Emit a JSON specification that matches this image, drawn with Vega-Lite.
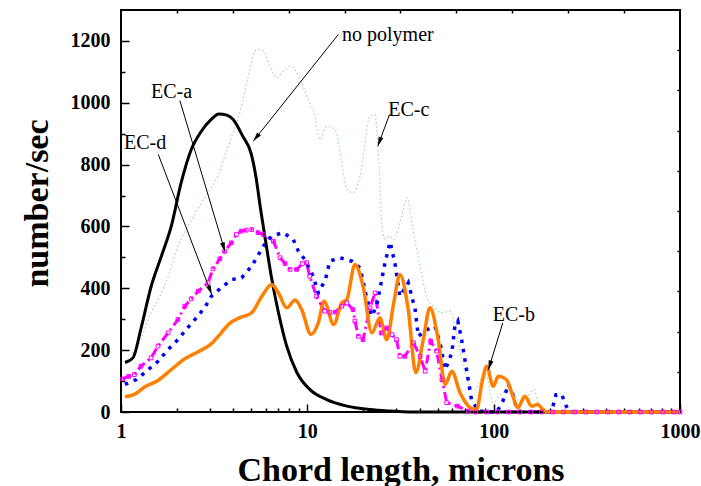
{
  "$schema": "https://vega.github.io/schema/vega-lite/v6.json",
  "width": 559,
  "height": 402,
  "autosize": "none",
  "padding": {"left": 121, "top": 10, "right": 21, "bottom": 74},
  "background": "white",
  "config": {
    "view": {"stroke": "#000", "strokeWidth": 2},
    "font": "Liberation Serif",
    "axis": {
      "domain": false,
      "grid": false,
      "labelFlush": false,
      "tickColor": "#000",
      "tickWidth": 1.5,
      "labelFont": "Liberation Serif",
      "labelFontWeight": "bold",
      "labelFontSize": 20,
      "labelColor": "#000",
      "titleFont": "Liberation Serif",
      "titleFontWeight": "bold",
      "titleFontSize": 34,
      "titleColor": "#000"
    }
  },
  "datasets": {
    "noPolymer": [
      {"len": 1.05, "n": 160}, {"len": 1.16, "n": 175}, {"len": 1.28, "n": 270}, {"len": 1.45, "n": 405},
      {"len": 1.65, "n": 505}, {"len": 1.86, "n": 600}, {"len": 2.1, "n": 740}, {"len": 2.38, "n": 848},
      {"len": 2.7, "n": 908}, {"len": 3.05, "n": 946}, {"len": 3.35, "n": 964}, {"len": 3.7, "n": 960},
      {"len": 4.0, "n": 946}, {"len": 4.5, "n": 892}, {"len": 5.0, "n": 835}, {"len": 5.3, "n": 760},
      {"len": 5.6, "n": 660}, {"len": 6.0, "n": 545}, {"len": 6.4, "n": 440}, {"len": 7.0, "n": 321},
      {"len": 7.75, "n": 213}, {"len": 8.8, "n": 127}, {"len": 10.3, "n": 73}, {"len": 12.7, "n": 40},
      {"len": 16.3, "n": 19}, {"len": 21.7, "n": 8}, {"len": 28, "n": 3}, {"len": 35, "n": 0},
      {"len": 1000, "n": 0}
    ],
    "ecA": [
      {"len": 1.02, "n": 107}, {"len": 1.1, "n": 115}, {"len": 1.18, "n": 121}, {"len": 1.28, "n": 148},
      {"len": 1.45, "n": 175}, {"len": 1.58, "n": 213}, {"len": 1.79, "n": 256}, {"len": 2.02, "n": 299},
      {"len": 2.2, "n": 342}, {"len": 2.38, "n": 366}, {"len": 2.6, "n": 391}, {"len": 2.93, "n": 418},
      {"len": 3.12, "n": 463}, {"len": 3.39, "n": 495}, {"len": 3.6, "n": 520}, {"len": 3.91, "n": 547},
      {"len": 4.16, "n": 574}, {"len": 4.42, "n": 585}, {"len": 4.7, "n": 588}, {"len": 5.03, "n": 590},
      {"len": 5.45, "n": 580}, {"len": 5.81, "n": 574}, {"len": 6.58, "n": 552}, {"len": 7.14, "n": 499},
      {"len": 7.6, "n": 480}, {"len": 8.07, "n": 461}, {"len": 8.77, "n": 461}, {"len": 9.4, "n": 480},
      {"len": 9.9, "n": 483}, {"len": 10.3, "n": 439}, {"len": 11.2, "n": 374}, {"len": 12.4, "n": 326},
      {"len": 13.2, "n": 322}, {"len": 14.1, "n": 323}, {"len": 15.3, "n": 342}, {"len": 16.3, "n": 353},
      {"len": 17.6, "n": 331}, {"len": 18.0, "n": 294}, {"len": 18.8, "n": 245}, {"len": 19.9, "n": 234},
      {"len": 21.7, "n": 337}, {"len": 23.1, "n": 385}, {"len": 24.9, "n": 256}, {"len": 26.7, "n": 272},
      {"len": 28.5, "n": 250}, {"len": 30.1, "n": 234}, {"len": 31.4, "n": 180}, {"len": 33.4, "n": 180},
      {"len": 37.1, "n": 224}, {"len": 40.3, "n": 180}, {"len": 42.9, "n": 132}, {"len": 45.9, "n": 229},
      {"len": 49.4, "n": 197}, {"len": 52.8, "n": 105}, {"len": 56, "n": 30}, {"len": 64, "n": 19},
      {"len": 73, "n": 3}, {"len": 80, "n": 0}, {"len": 92, "n": 0}, {"len": 105, "n": 0},
      {"len": 120, "n": 0}, {"len": 138, "n": 0}, {"len": 158, "n": 0}, {"len": 181, "n": 0},
      {"len": 207, "n": 0}, {"len": 237, "n": 0}, {"len": 272, "n": 0}, {"len": 312, "n": 0},
      {"len": 357, "n": 0}, {"len": 409, "n": 0}, {"len": 469, "n": 0}, {"len": 537, "n": 0},
      {"len": 616, "n": 0}, {"len": 705, "n": 0}, {"len": 808, "n": 0}, {"len": 926, "n": 0},
      {"len": 1000, "n": 0}
    ],
    "ecB": [
      {"len": 1.05, "n": 49}, {"len": 1.18, "n": 57}, {"len": 1.34, "n": 81}, {"len": 1.58, "n": 102},
      {"len": 1.86, "n": 137}, {"len": 2.2, "n": 172}, {"len": 2.6, "n": 195}, {"len": 3.1, "n": 224},
      {"len": 3.45, "n": 256}, {"len": 3.8, "n": 285}, {"len": 4.35, "n": 305}, {"len": 5.03, "n": 321},
      {"len": 5.7, "n": 374}, {"len": 6.44, "n": 412}, {"len": 7.0, "n": 385}, {"len": 7.75, "n": 337},
      {"len": 8.6, "n": 362}, {"len": 9.33, "n": 331}, {"len": 10.45, "n": 251}, {"len": 11.45, "n": 288},
      {"len": 12.3, "n": 358}, {"len": 13.85, "n": 283}, {"len": 15.3, "n": 353}, {"len": 16.3, "n": 364},
      {"len": 18.0, "n": 477}, {"len": 19.9, "n": 407}, {"len": 22.2, "n": 256}, {"len": 24.5, "n": 305},
      {"len": 26.7, "n": 234}, {"len": 29.0, "n": 348}, {"len": 31.4, "n": 445}, {"len": 34.8, "n": 331},
      {"len": 38.2, "n": 127}, {"len": 41.9, "n": 234}, {"len": 45.5, "n": 337}, {"len": 50.4, "n": 234},
      {"len": 54.9, "n": 89}, {"len": 59.6, "n": 132}, {"len": 66, "n": 62}, {"len": 75, "n": 14},
      {"len": 81, "n": 8}, {"len": 86.5, "n": 94}, {"len": 91.7, "n": 148}, {"len": 99.5, "n": 83},
      {"len": 106, "n": 116}, {"len": 117, "n": 105}, {"len": 125, "n": 62}, {"len": 135, "n": 14},
      {"len": 147, "n": 51}, {"len": 160, "n": 19}, {"len": 172, "n": 24}, {"len": 184, "n": 8},
      {"len": 195, "n": 0}, {"len": 1000, "n": 0}
    ],
    "ecC": [
      {"len": 1.15, "n": 190}, {"len": 1.23, "n": 213}, {"len": 1.45, "n": 321}, {"len": 1.65, "n": 385},
      {"len": 1.79, "n": 439}, {"len": 2.02, "n": 536}, {"len": 2.29, "n": 601}, {"len": 2.64, "n": 666},
      {"len": 2.93, "n": 709}, {"len": 3.31, "n": 763}, {"len": 3.6, "n": 827}, {"len": 3.99, "n": 903},
      {"len": 4.34, "n": 968}, {"len": 4.52, "n": 1011}, {"len": 4.82, "n": 1086}, {"len": 5.34, "n": 1172},
      {"len": 5.81, "n": 1167}, {"len": 6.3, "n": 1118}, {"len": 6.85, "n": 1081}, {"len": 7.42, "n": 1102},
      {"len": 8.25, "n": 1118}, {"len": 9.13, "n": 1075}, {"len": 10.3, "n": 1000}, {"len": 10.75, "n": 978},
      {"len": 11.7, "n": 881}, {"len": 12.7, "n": 924}, {"len": 14.1, "n": 913}, {"len": 15.3, "n": 806},
      {"len": 16.3, "n": 720}, {"len": 17.6, "n": 709}, {"len": 19.2, "n": 763}, {"len": 21.7, "n": 957},
      {"len": 23.1, "n": 962}, {"len": 23.9, "n": 860}, {"len": 24.5, "n": 752}, {"len": 24.9, "n": 633},
      {"len": 26, "n": 560}, {"len": 27.5, "n": 569}, {"len": 29, "n": 558}, {"len": 32.1, "n": 633},
      {"len": 34.2, "n": 693}, {"len": 37.1, "n": 580}, {"len": 40.3, "n": 472}, {"len": 43.7, "n": 374},
      {"len": 47.4, "n": 342}, {"len": 52.8, "n": 321}, {"len": 58.3, "n": 326}, {"len": 63.1, "n": 256},
      {"len": 67.3, "n": 170}, {"len": 73.2, "n": 94}, {"len": 79.8, "n": 73}, {"len": 84.9, "n": 105},
      {"len": 90, "n": 130}, {"len": 99.5, "n": 30}, {"len": 110, "n": 60}, {"len": 125, "n": 70},
      {"len": 140, "n": 30}, {"len": 153, "n": 51}, {"len": 164, "n": 73}, {"len": 175, "n": 20},
      {"len": 190, "n": 0}, {"len": 1000, "n": 0}
    ],
    "ecD": [
      {"len": 1.05, "n": 89}, {"len": 1.21, "n": 105}, {"len": 1.37, "n": 132}, {"len": 1.58, "n": 164},
      {"len": 1.79, "n": 202}, {"len": 2.02, "n": 234}, {"len": 2.24, "n": 267}, {"len": 2.49, "n": 299},
      {"len": 2.81, "n": 337}, {"len": 3.05, "n": 374}, {"len": 3.45, "n": 402}, {"len": 3.92, "n": 428},
      {"len": 4.44, "n": 434}, {"len": 5.03, "n": 472}, {"len": 5.81, "n": 536}, {"len": 6.44, "n": 569},
      {"len": 7.42, "n": 580}, {"len": 8.4, "n": 558}, {"len": 8.95, "n": 520}, {"len": 9.7, "n": 493},
      {"len": 10.75, "n": 439}, {"len": 11.45, "n": 385}, {"len": 12.5, "n": 428}, {"len": 13.2, "n": 488},
      {"len": 14.95, "n": 499}, {"len": 17.3, "n": 488}, {"len": 19.2, "n": 466}, {"len": 20.9, "n": 364},
      {"len": 22.2, "n": 310}, {"len": 23.5, "n": 342}, {"len": 24.9, "n": 418}, {"len": 26.1, "n": 482},
      {"len": 27.8, "n": 550}, {"len": 29.5, "n": 482}, {"len": 31.4, "n": 374}, {"len": 34.8, "n": 418},
      {"len": 37.9, "n": 331}, {"len": 39.4, "n": 245}, {"len": 44.1, "n": 267}, {"len": 48.4, "n": 277},
      {"len": 51.5, "n": 224}, {"len": 55, "n": 137}, {"len": 59.6, "n": 191}, {"len": 61.9, "n": 277},
      {"len": 64.2, "n": 294}, {"len": 67.3, "n": 234}, {"len": 71.5, "n": 137}, {"len": 76, "n": 40},
      {"len": 82.6, "n": 3}, {"len": 104, "n": 0}, {"len": 112, "n": 35}, {"len": 120, "n": 90},
      {"len": 127, "n": 55}, {"len": 133, "n": 10}, {"len": 140, "n": 0}, {"len": 200, "n": 0},
      {"len": 208, "n": 19}, {"len": 216, "n": 56}, {"len": 232, "n": 56}, {"len": 245, "n": 19},
      {"len": 255, "n": 0}, {"len": 1000, "n": 0}
    ],
    "labels": [
      {"text": "no polymer", "len": 15.36, "n": 1199},
      {"text": "EC-a", "len": 1.449, "n": 1016},
      {"text": "EC-d", "len": 1.038, "n": 849},
      {"text": "EC-c", "len": 27.2, "n": 957},
      {"text": "EC-b", "len": 98.9, "n": 294}
    ],
    "arrows": [
      {"name": "no polymer", "len": 14.67, "n": 1221, "len2": 5.13, "n2": 876},
      {"name": "EC-a", "len": 2.07, "n": 1007, "len2": 3.615, "n2": 519},
      {"name": "EC-d", "len": 1.585, "n": 833, "len2": 3.067, "n2": 380},
      {"name": "EC-c", "len": 27.6, "n": 962, "len2": 23.9, "n2": 860},
      {"name": "EC-b", "len": 111.9, "n": 288, "len2": 93.7, "n2": 137}
    ]
  },
  "layer": [
    {
      "data": {"name": "ecC"},
      "mark": {"type": "line", "color": "#a6d6a6", "strokeWidth": 1.2, "strokeDash": [1.5, 2.5], "interpolate": "monotone"},
      "encoding": {
        "x": {"field": "len", "type": "quantitative", "scale": {"type": "log", "domain": [1, 1000]},
              "axis": {"orient": "bottom", "values": [1, 10, 100, 1000], "format": "d", "tickSize": -8,
                       "labelPadding": 17, "title": "Chord length, microns", "titlePadding": 12}},
        "y": {"field": "n", "type": "quantitative", "scale": {"domain": [0, 1300], "nice": false},
              "axis": {"orient": "left", "values": [0, 200, 400, 600, 800, 1000, 1200], "format": "d", "tickSize": -8,
                       "labelPadding": 19, "title": "number/sec", "titlePadding": 16, "titleY": 193}}
      }
    },
    {
      "data": {"name": "ecA"},
      "mark": {"type": "line", "color": "#ff00ff", "strokeWidth": 3, "strokeDash": [9, 4, 2, 4]},
      "encoding": {
        "x": {"field": "len", "type": "quantitative", "scale": {"type": "log", "domain": [1, 1000]},
              "axis": {"orient": "bottom", "values": [2, 3, 4, 5, 6, 7, 8, 9, 20, 30, 40, 50, 60, 70, 80, 90, 200, 300, 400, 500, 600, 700, 800, 900],
                       "labels": false, "tickSize": -4, "title": null}},
        "y": {"field": "n", "type": "quantitative", "scale": {"domain": [0, 1300], "nice": false},
              "axis": {"orient": "left", "values": [100, 300, 500, 700, 900, 1100], "labels": false, "tickSize": -4, "title": null}}
      }
    },
    {
      "data": {"name": "ecD"},
      "mark": {"type": "line", "color": "#0000ff", "strokeWidth": 3.5, "strokeDash": [3.5, 6]},
      "encoding": {
        "x": {"field": "len", "type": "quantitative", "scale": {"type": "log", "domain": [1, 1000]},
              "axis": {"orient": "top", "values": [1.995, 3.981, 7.943, 15.85, 31.62, 63.1, 125.9, 251.2, 501.2],
                       "labels": false, "tickSize": -3, "title": null}},
        "y": {"field": "n", "type": "quantitative", "scale": {"domain": [0, 1300], "nice": false},
              "axis": {"orient": "right", "values": [130, 260, 390, 520, 650, 780, 910, 1040, 1170],
                       "labels": false, "tickSize": -3, "title": null}}
      }
    },
    {
      "data": {"name": "noPolymer"},
      "mark": {"type": "line", "color": "#000", "strokeWidth": 3, "interpolate": "monotone"},
      "encoding": {
        "x": {"field": "len", "type": "quantitative", "scale": {"type": "log", "domain": [1, 1000]}, "axis": null},
        "y": {"field": "n", "type": "quantitative", "scale": {"domain": [0, 1300], "nice": false}, "axis": null}
      }
    },
    {
      "data": {"name": "ecB"},
      "mark": {"type": "line", "color": "#ff8000", "strokeWidth": 3.5, "interpolate": "monotone"},
      "encoding": {
        "x": {"field": "len", "type": "quantitative", "scale": {"type": "log", "domain": [1, 1000]}, "axis": null},
        "y": {"field": "n", "type": "quantitative", "scale": {"domain": [0, 1300], "nice": false}, "axis": null}
      }
    },
    {
      "data": {"name": "ecA"},
      "mark": {"type": "point", "shape": "square", "filled": false, "color": "#ff00ff", "size": 14, "strokeWidth": 1, "opacity": 1},
      "encoding": {
        "x": {"field": "len", "type": "quantitative", "scale": {"type": "log", "domain": [1, 1000]}, "axis": null},
        "y": {"field": "n", "type": "quantitative", "scale": {"domain": [0, 1300], "nice": false}, "axis": null}
      }
    },
    {
      "data": {"name": "arrows"},
      "mark": {"type": "rule", "color": "#000", "strokeWidth": 1},
      "encoding": {
        "x": {"field": "len", "type": "quantitative", "scale": {"type": "log", "domain": [1, 1000]}, "axis": null},
        "y": {"field": "n", "type": "quantitative", "scale": {"domain": [0, 1300], "nice": false}, "axis": null},
        "x2": {"field": "len2"},
        "y2": {"field": "n2"}
      }
    },
    {
      "data": {"name": "labels"},
      "mark": {"type": "text", "font": "Liberation Serif", "fontSize": 20, "color": "#000", "align": "left", "baseline": "alphabetic"},
      "encoding": {
        "x": {"field": "len", "type": "quantitative", "scale": {"type": "log", "domain": [1, 1000]}, "axis": null},
        "y": {"field": "n", "type": "quantitative", "scale": {"domain": [0, 1300], "nice": false}, "axis": null},
        "text": {"field": "text"}
      }
    },
    {
      "data": {"name": "arrows"},
      "transform": [{"filter": "datum.name === 'no polymer'"}],
      "mark": {"type": "point", "shape": "M0,0L-0.7,2.6L0.7,2.6Z", "filled": true, "color": "#000", "size": 50, "opacity": 1, "angle": 218.5},
      "encoding": {
        "x": {"field": "len2", "type": "quantitative", "scale": {"type": "log", "domain": [1, 1000]}, "axis": null},
        "y": {"field": "n2", "type": "quantitative", "scale": {"domain": [0, 1300], "nice": false}, "axis": null}
      }
    },
    {
      "data": {"name": "arrows"},
      "transform": [{"filter": "datum.name === 'EC-a'"}],
      "mark": {"type": "point", "shape": "M0,0L-0.7,2.6L0.7,2.6Z", "filled": true, "color": "#000", "size": 50, "opacity": 1, "angle": 163.4},
      "encoding": {
        "x": {"field": "len2", "type": "quantitative", "scale": {"type": "log", "domain": [1, 1000]}, "axis": null},
        "y": {"field": "n2", "type": "quantitative", "scale": {"domain": [0, 1300], "nice": false}, "axis": null}
      }
    },
    {
      "data": {"name": "arrows"},
      "transform": [{"filter": "datum.name === 'EC-d'"}],
      "mark": {"type": "point", "shape": "M0,0L-0.7,2.6L0.7,2.6Z", "filled": true, "color": "#000", "size": 50, "opacity": 1, "angle": 159.1},
      "encoding": {
        "x": {"field": "len2", "type": "quantitative", "scale": {"type": "log", "domain": [1, 1000]}, "axis": null},
        "y": {"field": "n2", "type": "quantitative", "scale": {"domain": [0, 1300], "nice": false}, "axis": null}
      }
    },
    {
      "data": {"name": "arrows"},
      "transform": [{"filter": "datum.name === 'EC-c'"}],
      "mark": {"type": "point", "shape": "M0,0L-0.7,2.6L0.7,2.6Z", "filled": true, "color": "#000", "size": 50, "opacity": 1, "angle": 200.1},
      "encoding": {
        "x": {"field": "len2", "type": "quantitative", "scale": {"type": "log", "domain": [1, 1000]}, "axis": null},
        "y": {"field": "n2", "type": "quantitative", "scale": {"domain": [0, 1300], "nice": false}, "axis": null}
      }
    },
    {
      "data": {"name": "arrows"},
      "transform": [{"filter": "datum.name === 'EC-b'"}],
      "mark": {"type": "point", "shape": "M0,0L-0.7,2.6L0.7,2.6Z", "filled": true, "color": "#000", "size": 50, "opacity": 1, "angle": 197.1},
      "encoding": {
        "x": {"field": "len2", "type": "quantitative", "scale": {"type": "log", "domain": [1, 1000]}, "axis": null},
        "y": {"field": "n2", "type": "quantitative", "scale": {"domain": [0, 1300], "nice": false}, "axis": null}
      }
    }
  ],
  "resolve": {"axis": {"x": "independent", "y": "independent"}}
}
